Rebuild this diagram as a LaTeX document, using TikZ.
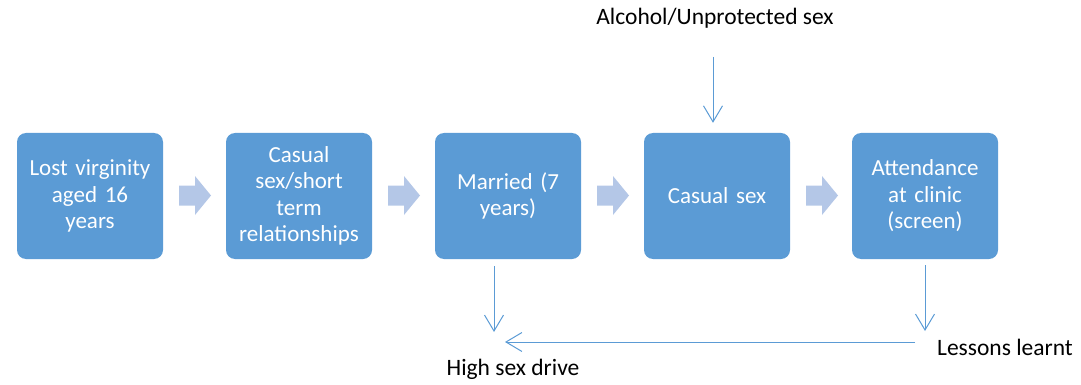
\documentclass[tikz,border=0pt]{standalone}
\usepackage{fontspec}
\setmainfont{Carlito}
\usetikzlibrary{arrows.meta,calc}
\definecolor{boxblue}{RGB}{91,155,213}
\definecolor{chevblue}{RGB}{180,199,231}
\definecolor{linkblue}{RGB}{91,155,213}
\begin{document}
\begin{tikzpicture}[x=1pt,y=-1pt,
  stagebox/.style={fill=boxblue,draw=none,rounded corners=9pt,minimum width=146pt,minimum height=126pt,
    text width=140pt,align=center,text=white,font=\fontsize{23}{26.5}\selectfont,inner sep=0pt},
  chev/.style={fill=chevblue,draw=none},
  link/.style={draw=linkblue,line width=1pt,-{Straight Barb[length=16pt,width=19pt,line width=1pt]}},
  lbl/.style={font=\fontsize{23.5}{27}\selectfont,inner sep=0pt}]
\useasboundingbox (0,0) rectangle (1081,385);

\node[stagebox] (b1) at (90,196) {Lost virginity\\aged 16\\years};
\node[stagebox] (b2) at (299,196) {Casual\\sex/short\\term\\relationships};
\node[stagebox] (b3) at (508,196) {Married (7\\years)};
\node[stagebox] (b4) at (717,196) {Casual sex};
\node[stagebox] (b5) at (925,196) {Attendance\\at clinic\\(screen)};

% block arrows between consecutive stages
\foreach \cx in {195,404,613,822}{
  \fill[chev] (\cx-16,185.5) -- (\cx,185.5) -- (\cx,176) -- (\cx+16,195.5) -- (\cx,215) -- (\cx,205.5) -- (\cx-16,205.5) -- cycle;
}

\node[lbl] (alc) at (715,18) {Alcohol/Unprotected sex};
\node[lbl,anchor=base] (hsd) at (513,375) {High sex drive};
\node[lbl,anchor=base] (les) at (1005,355) {Lessons learnt};

\coordinate (t1) at (713,57);
\coordinate (m1) at (494,266);
\coordinate (m2) at (494,332);
\coordinate (a1) at (925,265);
\coordinate (a2) at (925,331);
\coordinate (l1) at (915,342);
\coordinate (l2) at (505,342);

\draw[link] (t1) -- ($(b4.north -| t1)+(0,-10)$);
\draw[link] (m1) -- (m2);
\draw[link] (a1) -- (a2);
\draw[link] (l1) -- (l2);
\end{tikzpicture}
\end{document}
